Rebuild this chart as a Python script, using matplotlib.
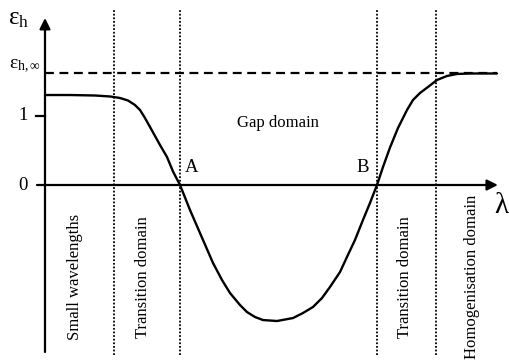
import matplotlib
matplotlib.use("Agg")
import matplotlib.pyplot as plt

plt.rcParams['mathtext.fontset'] = 'custom'
plt.rcParams['mathtext.rm'] = 'Liberation Serif'
plt.rcParams['mathtext.it'] = 'Liberation Serif:italic'
plt.rcParams['font.family'] = ['Liberation Serif', 'DejaVu Serif']

# Curve: permittivity eps_h versus wavelength lambda (arbitrary units)
lam = [0.0, 0.553, 1.106, 1.438, 1.659, 1.836, 1.991, 2.102, 2.212, 2.323,
       2.434, 2.544, 2.699, 2.832, 2.987, 3.208, 3.429, 3.717, 3.916, 4.093,
       4.314, 4.469, 4.646, 4.823, 5.133, 5.487, 5.708, 5.929, 6.128, 6.305,
       6.527, 6.681, 6.858, 7.035, 7.190, 7.345, 7.478, 7.633, 7.810, 8.009,
       8.142, 8.296, 8.473, 8.673, 8.894, 9.115, 9.403, 10.0]
eps = [1.304, 1.304, 1.297, 1.283, 1.261, 1.225, 1.159, 1.087, 0.971, 0.841,
       0.710, 0.580, 0.406, 0.196, 0.0, -0.362, -0.696, -1.130, -1.377, -1.565,
       -1.739, -1.841, -1.913, -1.957, -1.971, -1.928, -1.855, -1.768, -1.638, -1.478,
       -1.261, -1.043, -0.797, -0.507, -0.261, 0.0, 0.261, 0.543, 0.826, 1.087,
       1.232, 1.333, 1.420, 1.522, 1.580, 1.609, 1.616, 1.616]

eps_inf = 1.616
boundaries = [1.527, 2.976, 7.345, 8.650]
domain_labels = ["Small wavelengths", "Transition domain", "Transition domain",
                 "Homogenisation domain"]
domain_x = [0.655, 2.168, 7.965, 9.447]
yticks = [0, 1]
ytick_labels = ["0", "1"]

fig = plt.figure(figsize=(5.10, 3.62), dpi=100)
ax = fig.add_axes([0, 0, 1, 1])
ax.set_xlim(-0.9956, 10.288)
ax.set_ylim(-2.565, 2.681)
ax.axis('off')

# axes with arrows
ax.annotate('', xy=(0, 2.42), xytext=(0, -2.42),
            arrowprops=dict(arrowstyle='-|>', lw=1.6, color='black',
                            mutation_scale=16, shrinkA=0, shrinkB=0))
ax.annotate('', xy=(10.02, 0), xytext=(-0.177, 0),
            arrowprops=dict(arrowstyle='-|>', lw=1.6, color='black',
                            mutation_scale=16, shrinkA=0, shrinkB=0))
# tick at 1
ax.plot([-0.199, 0], [1, 1], color='black', lw=1.6)
for v, t in zip(yticks, ytick_labels):
    ax.text(-0.48, v, t, fontsize=13.5, ha='center', va='center')

# domain boundaries
for b in boundaries:
    ax.plot([b, b], [-2.46, 2.536], color='black', lw=1.3, linestyle=(0, (1, 1)))

# asymptote
ax.plot([0, 10.0], [eps_inf, eps_inf], color='black', lw=1.6,
        linestyle=(0, (4, 2.5)))

# curve
ax.plot(lam, eps, color='black', lw=1.7, solid_capstyle='round',
        solid_joinstyle='round')

# domain labels
for x, t in zip(domain_x, domain_labels):
    ax.text(x, -1.33, t, rotation=90, fontsize=12, ha='center', va='center')
ax.text(5.15, 0.90, "Gap domain", fontsize=12, ha='center', va='center')
ax.text(3.25, 0.25, "A", fontsize=13.5, ha='center', va='center')
ax.text(7.04, 0.25, "B", fontsize=13.5, ha='center', va='center')

ax.text(-0.58, 2.40, r"$\mathrm{ε}_{\mathrm{h}}$", fontsize=18, ha='center', va='center')
ax.text(-0.45, 1.72, r"$\mathrm{ε}_{\mathrm{h},\infty}$", fontsize=14, ha='center', va='center')
ax.text(10.12, -0.30, r"$\mathrm{λ}$", fontsize=21, ha='center', va='center')

fig.savefig("out.png", dpi=100)
